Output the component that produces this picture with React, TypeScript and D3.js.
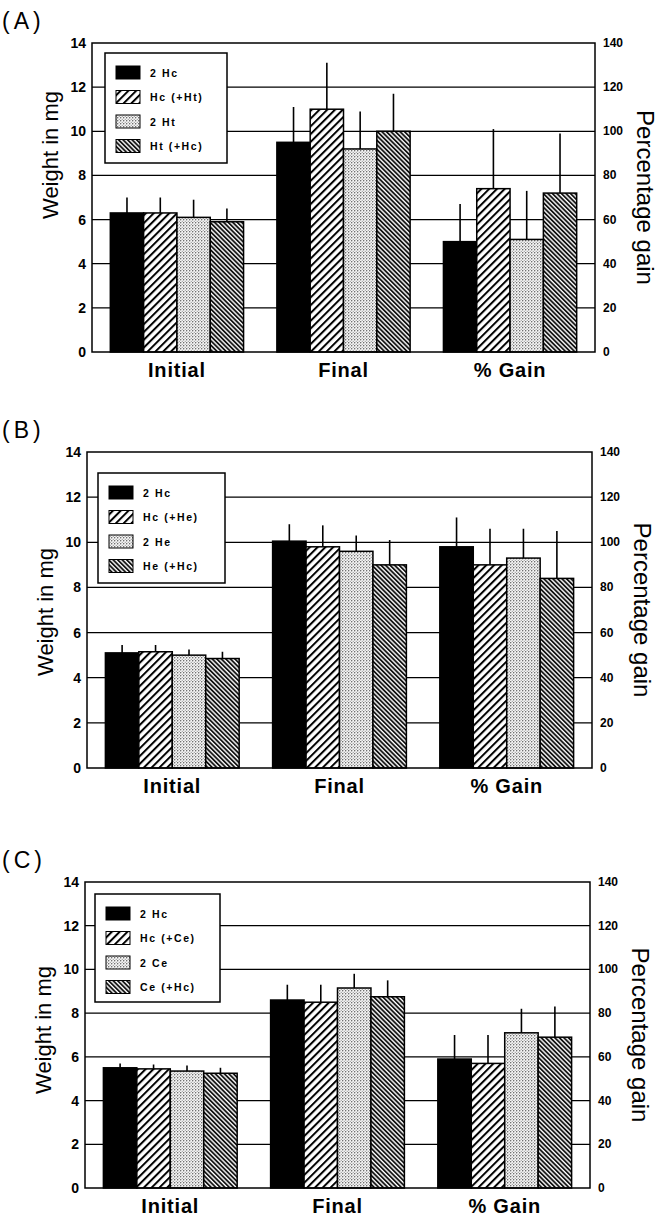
import React, { useEffect, useRef } from "react";
import * as d3 from "d3";

// groups on the x axis
const groups = ["Initial", "Final", "% Gain"];

// legend names per panel
const namesA = ["2 Hc", "Hc (+Ht)", "2 Ht", "Ht (+Hc)"];
const namesB = ["2 Hc", "Hc (+He)", "2 He", "He (+Hc)"];
const namesC = ["2 Hc", "Hc (+Ce)", "2 Ce", "Ce (+Hc)"];

// bar values: Initial (mg), Final (mg), % Gain (percent), one row per treatment
const valuesA = [
  [6.3, 9.5, 50],
  [6.3, 11.0, 74],
  [6.1, 9.2, 51],
  [5.9, 10.0, 72],
];
const errorsA = [
  [7.0, 11.1, 67],
  [7.0, 13.1, 101],
  [6.9, 10.9, 73],
  [6.5, 11.7, 99],
];
const valuesB = [
  [5.1, 10.05, 98],
  [5.15, 9.8, 90],
  [5.0, 9.6, 93],
  [4.85, 9.0, 84],
];
const errorsB = [
  [5.45, 10.8, 111],
  [5.45, 10.75, 106],
  [5.25, 10.3, 106],
  [5.15, 10.1, 105],
];
const valuesC = [
  [5.5, 8.6, 59],
  [5.45, 8.5, 57],
  [5.35, 9.15, 71],
  [5.25, 8.75, 69],
];
const errorsC = [
  [5.7, 9.3, 70],
  [5.65, 9.3, 70],
  [5.6, 9.8, 82],
  [5.5, 9.5, 83],
];

const leftTicks = [0, 2, 4, 6, 8, 10, 12, 14];
const rightTicks = [0, 20, 40, 60, 80, 100, 120, 140];

const fills = ["#000", "url(#hatch)", "url(#dots)", "url(#dark)"];

const panels = [
  { letter: "(A)", names: namesA, values: valuesA, errors: errorsA, top: 43, bottom: 352, left: 92, right: 595, lx: 105, ly: 53, lw: 122, lh: 110, wy: 155 },
  { letter: "(B)", names: namesB, values: valuesB, errors: errorsB, top: 452, bottom: 768, left: 87, right: 592, lx: 98, ly: 473, lw: 127, lh: 110, wy: 612 },
  { letter: "(C)", names: namesC, values: valuesC, errors: errorsC, top: 882, bottom: 1188, left: 85, right: 590, lx: 95, ly: 894, lw: 125, lh: 108, wy: 1030 },
];

export default function App() {
  const ref = useRef<SVGSVGElement>(null);

  useEffect(() => {
    const svg = d3.select(ref.current);
    svg.selectAll("*").remove();
    const font = "'Liberation Sans', Arial, sans-serif";

    // patterns
    const defs = svg.append("defs");
    const hatch = defs.append("pattern").attr("id", "hatch").attr("patternUnits", "userSpaceOnUse")
      .attr("width", 5.5).attr("height", 5.5).attr("patternTransform", "rotate(45)");
    hatch.append("rect").attr("width", 5.5).attr("height", 5.5).attr("fill", "#fff");
    hatch.append("line").attr("x1", 1).attr("x2", 1).attr("y1", 0).attr("y2", 5.5).attr("stroke", "#000").attr("stroke-width", 2);

    const dark = defs.append("pattern").attr("id", "dark").attr("patternUnits", "userSpaceOnUse")
      .attr("width", 3.2).attr("height", 3.2).attr("patternTransform", "rotate(-45)");
    dark.append("rect").attr("width", 3.2).attr("height", 3.2).attr("fill", "#fff");
    dark.append("line").attr("x1", 1).attr("x2", 1).attr("y1", 0).attr("y2", 3.2).attr("stroke", "#000").attr("stroke-width", 1.7);

    const dots = defs.append("pattern").attr("id", "dots").attr("patternUnits", "userSpaceOnUse")
      .attr("width", 3).attr("height", 3);
    dots.append("rect").attr("width", 3).attr("height", 3).attr("fill", "#f6f6f6");
    dots.append("circle").attr("cx", 0.75).attr("cy", 0.75).attr("r", 0.65).attr("fill", "#444");
    dots.append("circle").attr("cx", 2.25).attr("cy", 2.25).attr("r", 0.55).attr("fill", "#777");

    panels.forEach((p) => {
      const g = svg.append("g");
      const y = d3.scaleLinear().domain([0, 14]).range([p.bottom, p.top]);
      const yPct = d3.scaleLinear().domain([0, 140]).range([p.bottom, p.top]);
      const x0 = d3.scaleBand().domain(groups).range([p.left, p.right]).paddingInner(0.2).paddingOuter(0.11);
      const x1 = d3.scaleBand().domain(d3.range(4).map(String)).range([0, x0.bandwidth()]);

      // grid lines
      g.selectAll(".grid").data(leftTicks.filter((t) => t > 0 && t < 14)).enter().append("line")
        .attr("x1", p.left).attr("x2", p.right)
        .attr("y1", (d) => y(d)).attr("y2", (d) => y(d))
        .attr("stroke", "#000").attr("stroke-width", 1.3);

      // left tick labels
      g.selectAll(".lt").data(leftTicks).enter().append("text")
        .attr("x", p.left - 6).attr("y", (d) => y(d) + 5)
        .attr("text-anchor", "end").attr("font-family", font).attr("font-weight", "bold").attr("font-size", 14)
        .text((d) => d);

      // right tick labels
      g.selectAll(".rt").data(rightTicks).enter().append("text")
        .attr("x", p.right + 8).attr("y", (d) => yPct(d) + 4)
        .attr("font-family", font).attr("font-weight", "bold").attr("font-size", 12)
        .text((d) => d);

      // bars
      groups.forEach((grp, gi) => {
        const sc = gi === 2 ? yPct : y;
        p.values.forEach((row, si) => {
          const bx = (x0(grp) || 0) + (x1(String(si)) || 0);
          const bw = x1.bandwidth();
          g.append("line")
            .attr("x1", bx + bw / 2).attr("x2", bx + bw / 2)
            .attr("y1", sc(row[gi])).attr("y2", sc(p.errors[si][gi]))
            .attr("stroke", "#000").attr("stroke-width", 1.6);
          g.append("rect")
            .attr("x", bx).attr("y", sc(row[gi]))
            .attr("width", bw).attr("height", p.bottom - sc(row[gi]))
            .attr("fill", fills[si]).attr("stroke", "#000").attr("stroke-width", 1.5);
        });
      });

      // frame
      g.append("rect").attr("x", p.left).attr("y", p.top)
        .attr("width", p.right - p.left).attr("height", p.bottom - p.top)
        .attr("fill", "none").attr("stroke", "#000").attr("stroke-width", 1.5);

      // legend
      g.append("rect").attr("x", p.lx).attr("y", p.ly).attr("width", p.lw).attr("height", p.lh)
        .attr("fill", "#fff").attr("stroke", "#000").attr("stroke-width", 1.5);
      p.names.forEach((n, i) => {
        const cy = p.ly + 19.5 + i * 24.5;
        g.append("rect").attr("x", p.lx + 11).attr("y", cy - 6.5).attr("width", 24).attr("height", 13)
          .attr("fill", fills[i]).attr("stroke", "#000").attr("stroke-width", 1);
        g.append("text").attr("x", p.lx + 45).attr("y", cy + 4)
          .attr("font-family", font).attr("font-weight", "bold").attr("font-size", 10.5)
          .attr("letter-spacing", 1.6)
          .text(n);
      });

      // category labels
      g.selectAll(".cat").data(groups).enter().append("text")
        .attr("x", (d) => (x0(d) || 0) + x0.bandwidth() / 2).attr("y", p.bottom + 25)
        .attr("text-anchor", "middle").attr("font-family", font).attr("font-weight", "bold").attr("font-size", 20)
        .attr("letter-spacing", 0.8)
        .text((d) => d);

      // axis titles
      const mid = (p.top + p.bottom) / 2;
      g.append("text").attr("transform", `translate(${p.left - 34}, ${p.wy}) rotate(-90)`)
        .attr("text-anchor", "middle").attr("font-family", font).attr("font-size", 22)
        .text("Weight in mg");
      g.append("text").attr("transform", `translate(${p.right + 42}, ${mid}) rotate(90)`)
        .attr("text-anchor", "middle").attr("font-family", font).attr("font-size", 24)
        .text("Percentage gain");

      // panel letter
      g.append("text").attr("x", 2).attr("y", p.top - 14)
        .attr("font-family", font).attr("font-size", 23).attr("letter-spacing", 4)
        .text(p.letter);
    });
  }, []);

  return <svg ref={ref} width={672} height={1219} style={{ position: "absolute", left: 0, top: 0 }} />;
}
